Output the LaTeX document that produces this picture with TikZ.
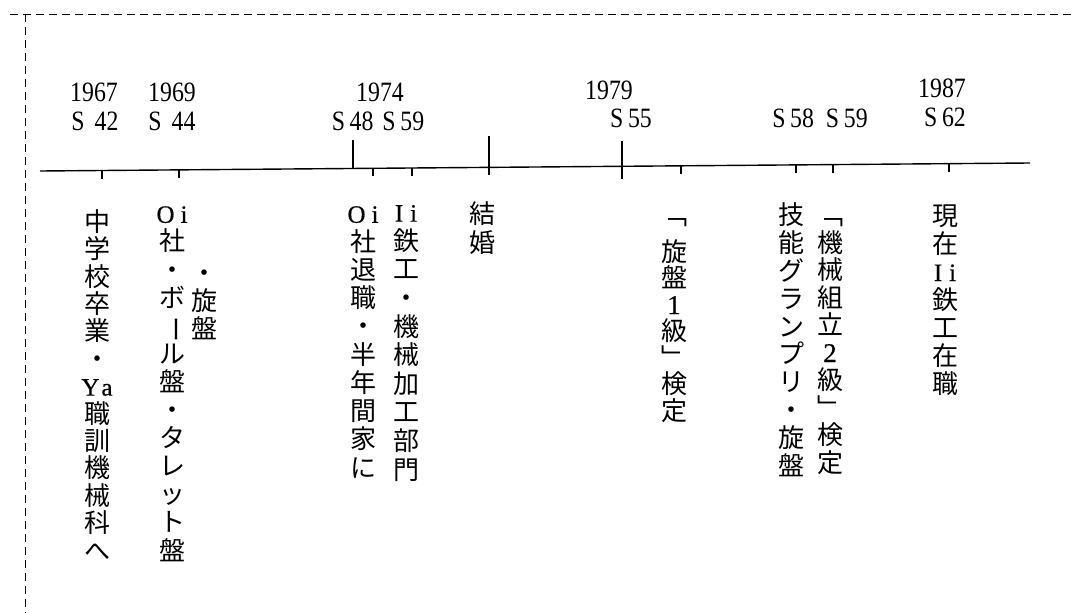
\documentclass[tikz,border=0pt]{standalone}
\usepackage{fontspec}
\newfontfamily\jp{Noto Sans CJK JP}
\newfontfamily\lat{Liberation Serif}[FakeStretch=0.85]
\newfontfamily\latu{Liberation Serif}[FakeBold=0.6]
\usetikzlibrary{calc}
\newcommand\vbar{\rotatebox[origin=c]{-90}{ー}}
\newcommand\Lt[1]{{\latu\fontsize{25}{25}\selectfont #1}}
\newcommand\Dg[1]{{\latu\fontsize{27}{27}\selectfont #1}}
\tikzset{
  yr/.style={font=\lat\fontsize{28}{30}\selectfont, inner sep=0pt},
  col/.style={align=center, anchor=base, inner sep=0pt, font=\jp\fontsize{26}{#1}\selectfont},
  frame/.style={line width=0.8pt, dash pattern=on 8pt off 5pt},
  axis/.style={line width=1.4pt},
  tick/.style={line width=1.3pt},
}
\begin{document}
\begin{tikzpicture}[x=1pt, y=-1pt]
\useasboundingbox (0,0) rectangle (1072,613);
\fill[white] (0,0) rectangle (1072,613);
% dashed frame
\draw[frame] (10,14) -- (1072,14);
\draw[frame] (25,14) -- (25,613);
% axis
\coordinate (axL) at (40,171);
\coordinate (axR) at (1030,163);
\draw[axis] (axL) -- (axR);
\foreach \t in {0.0626,0.1404,0.3364,0.3758,0.6475,0.7636,0.8010,0.9182}
  \draw[tick] ($(axL)!\t!(axR)$) -- ++(0,8);
\draw[tick] ($(axL)!0.3162!(axR)$) -- ++(0,-28);
\draw[tick] ($(axL)!0.4535!(axR)+(0,-31)$) -- ++(0,39);
\draw[tick] ($(axL)!0.5879!(axR)+(0,-25)$) -- ++(0,38);
% year labels
\node[yr] (y1967) at (94,92) {1967};
\node[yr] (s42) at (95,121) {S\hspace{10pt}42};
\node[yr] (y1969) at (172,92) {1969};
\node[yr] (s44) at (172,121) {S\hspace{10pt}44};
\node[yr] (y1974) at (380,92) {1974};
\node[yr] (s4859) at (378,121) {S\,48\hspace{9pt}S\,59};
\node[yr] (y1979) at (609,90) {1979};
\node[yr] (s55) at (631,118) {S\,55};
\node[yr] (s5859) at (820,118) {S\,58\hspace{12pt}S\,59};
\node[yr] (y1987) at (942,88) {1987};
\node[yr] (s62) at (945,117) {S\,62};
% vertical texts (anchor = baseline of last line)
\node[col=27.4] (c1) at (97,560) {中\\学\\校\\卒\\業\\・\\\Lt{Y\hspace{2pt}a}\\職\\訓\\機\\械\\科\\へ};
\node[col=28.1] (c2) at (172,560) {\Lt{O\hspace{6pt}i}\\社\\・\\ボ\\\vbar\\ル\\盤\\・\\タ\\レ\\ッ\\ト\\盤};
\node[col=28] (c3) at (204,338) {・\\旋\\盤};
\node[col=28.25] (c4) at (363,477) {\Lt{O\hspace{6pt}i}\\社\\退\\職\\・\\半\\年\\間\\家\\に};
\node[col=28.6] (c5) at (406,479) {\Lt{I\hspace{7pt}i}\\鉄\\工\\・\\機\\械\\加\\工\\部\\門};
\node[col=29] (c6) at (482,252) {結\\婚};
\node[col=26.5] (c7) at (674,420) {﹁\\[10pt]旋\\盤\\\Dg{1}\\級\\﹂\\検\\定};
\node[col=27.8] (c8) at (791,475) {技\\能\\グ\\ラ\\ン\\プ\\リ\\・\\旋\\盤};
\node[col=27.5] (c9) at (830,472) {﹁\\機\\械\\組\\立\\\Dg{2}\\級\\﹂\\検\\定};
\node[col=28] (c10) at (945,393) {現\\在\\\Lt{I\hspace{7pt}i}\\鉄\\工\\在\\職};
\end{tikzpicture}
\end{document}
